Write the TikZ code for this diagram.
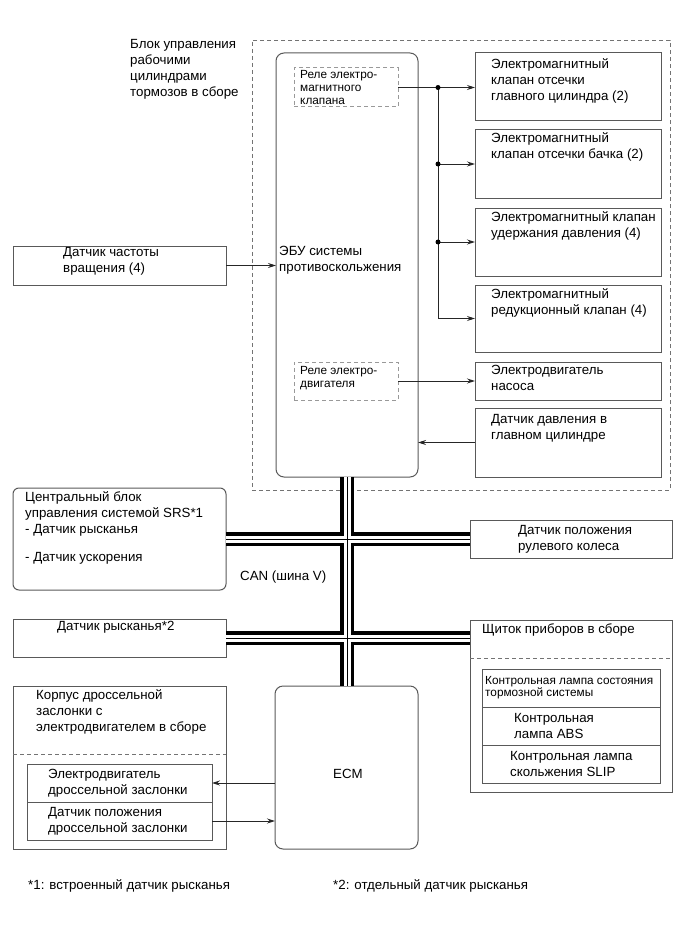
\documentclass[tikz,border=0pt]{standalone}
\usepackage{fontspec}
\setmainfont{Liberation Sans}
\usetikzlibrary{positioning, arrows.meta}
\newcommand{\bigtxt}{\fontsize{13.3}{16}\selectfont}
\newcommand{\smalltxt}{\fontsize{11.8}{13}\selectfont}
\newcommand{\tinytxt}{\fontsize{11.8}{12}\selectfont}
\tikzset{x=1pt, y=-1pt, % One unit is one pixel of the original sheet
box/.style={ % Sets the properties for every block
draw=black!65, line width=1pt, anchor=north west, inner sep=0pt, outer sep=0pt},
boxsize/.style 2 args={minimum width=#1pt, minimum height=#2pt},
rbox/.style={box, rounded corners=8pt}, % Control units
relay/.style={box, draw=black!40, dash pattern=on 4pt off 3pt}, % Relays inside the ECU
dashline/.style={draw=black!55, line width=0.8pt, dash pattern=on 4pt off 3pt},
txt/.style={anchor=north west, inner sep=0pt, align=left, font=\bigtxt},
wire/.style={ % Signal lines with small filled heads
draw=black!85, line width=0.9pt, -{Stealth[length=8pt, width=5pt]}},
junction/.style={circle, fill=black, inner sep=0pt, minimum size=5pt}}

\begin{document}
\begin{tikzpicture}
    \useasboundingbox (0,0) rectangle (690,952);

    \node[box, dashline, boxsize={418}{450}] (act) at (252,40) {};
    \node[txt] (actt) at (130,39) {Блок управления\\рабочими\\цилиндрами\\тормозов в сборе};

    \node[rbox, boxsize={142}{424}] (ecu) at (276,53) {};
    \node[txt, right=3pt of ecu.west, yshift=5pt] (ecut) {ЭБУ системы\\противоскольжения};
    \node[relay, boxsize={104}{39}] (rel1) at (294,68) {};
    \node[txt, font=\smalltxt, right=6pt of rel1.west] (rel1t) {Реле электро-\\магнитного\\клапана};
    \node[relay, boxsize={104}{38}] (rel2) at (294,362) {};
    \node[txt, font=\smalltxt, right=6pt of rel2.west, yshift=3pt] (rel2t) {Реле электро-\\двигателя};

    \node[box, boxsize={186}{68}] (v1) at (475,53) {};
    \node[box, boxsize={186}{68}, below=9pt of v1] (v2) {};
    \node[box, boxsize={186}{68}, below=10pt of v2] (v3) {};
    \node[box, boxsize={186}{67}, below=9pt of v3] (v4) {};
    \node[box, boxsize={186}{38}, below=10pt of v4] (pump) {};
    \node[box, boxsize={186}{69}, below=8pt of pump] (psens) {};
    \node[txt, below right=5pt and 16pt of v1.north west] (v1t) {Электромагнитный\\клапан отсечки\\главного цилиндра (2)};
    \node[txt, below right=2pt and 16pt of v2.north west] (v2t) {Электромагнитный\\клапан отсечки бачка (2)};
    \node[txt, below right=3pt and 16pt of v3.north west] (v3t) {Электромагнитный клапан\\удержания давления (4)};
    \node[txt, below right=3pt and 16pt of v4.north west] (v4t) {Электромагнитный\\редукционный клапан (4)};
    \node[txt, below right=3pt and 16pt of pump.north west] (pumpt) {Электродвигатель\\насоса};
    \node[txt, below right=6pt and 16pt of psens.north west] (psenst) {Датчик давления в\\главном цилиндре};

    \node[box, boxsize={213}{39}] (speed) at (13,246) {};
    \node[txt, below right=1pt and 50pt of speed.north west] (speedt) {Датчик частоты\\вращения (4)};

    \node[rbox, rounded corners=6pt, boxsize={213}{102}] (srs) at (13,488) {};
    \node[txt, below right=3pt and 12pt of srs.north west] (srst) {Центральный блок\\управления системой SRS*1\\- Датчик рысканья\\[12pt]- Датчик ускорения};
    \node[box, boxsize={202}{38}] (steer) at (470,520) {};
    \node[txt, right=48pt of steer.west] (steert) {Датчик положения\\рулевого колеса};
    \node[box, boxsize={213}{38}] (yaw) at (13,619) {};
    \node[txt, below right=2pt and 44pt of yaw.north west] (yawt) {Датчик рысканья*2};

    \node[box, boxsize={202}{172}] (clus) at (470,620) {};
    \node[txt, below right=4pt and 12pt of clus.north west] (clust) {Щиток приборов в сборе};
    \draw[dashline] ([yshift=-38pt]clus.north west) -- ([yshift=-38pt]clus.north east);
    \node[box, boxsize={178}{38}] (lmp1) at (482,669) {};
    \node[box, boxsize={178}{38}, below=0pt of lmp1] (lmp2) {};
    \node[box, boxsize={178}{38}, below=0pt of lmp2] (lmp3) {};
    \node[txt, font=\tinytxt, right=3pt of lmp1.west] (lmp1t) {Контрольная лампа состояния\\тормозной системы};
    \node[txt, right=32pt of lmp2.west] (lmp2t) {Контрольная\\лампа ABS};
    \node[txt, right=28pt of lmp3.west] (lmp3t) {Контрольная лампа\\скольжения SLIP};

    \node[box, boxsize={213}{163}] (thr) at (13,686) {};
    \node[txt, below right=3pt and 23pt of thr.north west] (thrt) {Корпус дроссельной\\заслонки с\\электродвигателем в сборе};
    \draw[dashline] ([yshift=-68pt]thr.north west) -- ([yshift=-68pt]thr.north east);
    \node[box, boxsize={185}{38}] (tmot) at (27,764) {};
    \node[box, boxsize={185}{38}, below=0pt of tmot] (tsens) {};
    \node[txt, right=21pt of tmot.west] (tmott) {Электродвигатель\\дроссельной заслонки};
    \node[txt, right=21pt of tsens.west] (tsenst) {Датчик положения\\дроссельной заслонки};

    \node[rbox, boxsize={143}{163}] (ecm) at (275,686) {};
    \node[txt, right=58pt of ecm.west, yshift=-6pt] (ecmt) {ECM};

    \node[txt, anchor=west] (canl) at (240,577) {CAN (шина V)};
    \node[txt, anchor=west] (fn1) at (28,886) {*1: встроенный датчик рысканья};
    \node[txt, anchor=west] (fn2) at (333,886) {*2: отдельный датчик рысканья};

    \coordinate[right=40pt of rel1.east] (j1);
    \draw[wire] (rel1.east) -- (rel1.east -| v1.west);
    \draw[wire] (j1) |- (v4.west);
    \draw[wire] (j1 |- v2.west) -- (v2.west);
    \draw[wire] (j1 |- v3.west) -- (v3.west);
    \node[junction] (d1) at (j1) {};
    \node[junction] (d2) at (j1 |- v2.west) {};
    \node[junction] (d3) at (j1 |- v3.west) {};
    \draw[wire] (rel2.east) -- (rel2.east -| pump.west);
    \draw[wire] (psens.west) -- (psens.west -| ecu.east);
    \draw[wire] (speed.east) -- (speed.east -| ecu.west);
    \draw[wire] (tmot.east -| ecm.west) -- (tmot.east);
    \draw[wire] (tsens.east) -- (tsens.east -| ecm.west);

    \foreach \w/\c in {14pt/black, 7pt/white, 1pt/black} {
        \draw[line width=\w, draw=\c] (ecu.south) -- (ecu.south |- ecm.north)
            (srs.east) -- (steer.west)
            (yaw.east) -- (yaw.east -| clus.west);
    }

\end{tikzpicture}
\end{document}
